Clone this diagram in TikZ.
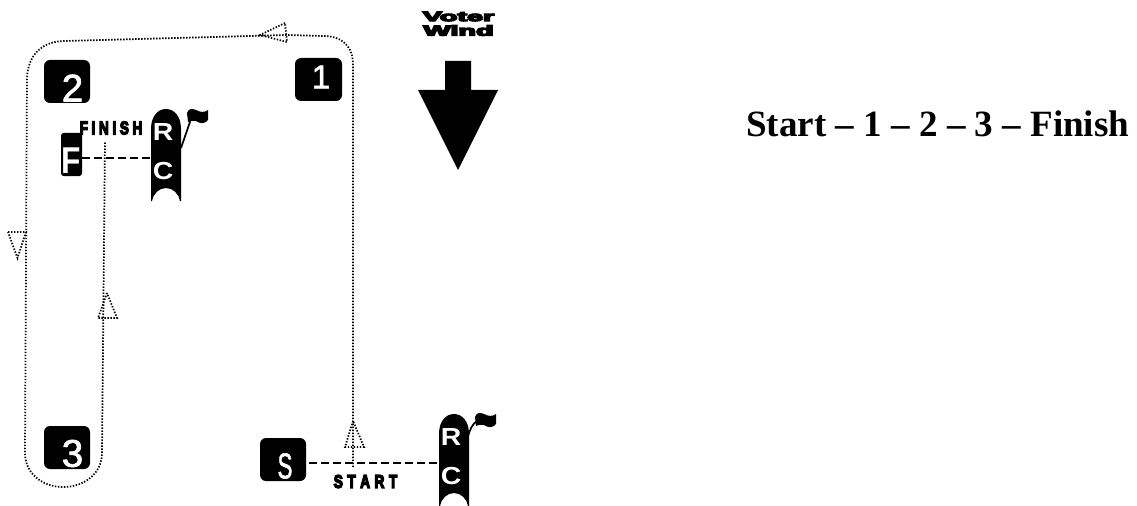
\documentclass[tikz,border=0pt]{standalone}
\usepackage{fontspec}
\setmainfont{Liberation Serif}
\setsansfont{Liberation Sans}
\newfontfamily\heavyfont[FakeBold=8]{Liberation Sans Bold}
\newfontfamily\medfont[FakeBold=1.6]{Liberation Sans}
\newcommand{\heavy}[3]{\scalebox{#1}[#2]{\heavyfont #3}}
\tikzset{
  x=0.75pt,y=-0.75pt,
  buoy/.style={fill=black,rounded corners=4.5pt,draw=none},
  course/.style={draw=black,line width=1.3pt,dash pattern=on 1.05pt off 1.2pt},
  startline/.style={draw=black,line width=1.4pt,dash pattern=on 6.2pt off 2.8pt},
  boat/.style={fill=black,draw=none},
  pole/.style={draw=black,line width=1.3pt},
  boatletter/.style={inner sep=0,text=white,font=\sffamily\bfseries\fontsize{18.5}{18.5}\selectfont},
  digit/.style={inner sep=0,text=white},
  heavytext/.style={inner sep=0,text=black},
  title/.style={inner sep=0,anchor=base west,font=\bfseries\fontsize{27.8}{27.8}\selectfont},
}
\newcommand{\rcboat}[3]{% x y name
  \begin{scope}[shift={(#1,#2)}]
    \fill[boat] (0,92) -- (0,20) .. controls (0,7) and (7,0) .. (15,0) .. controls (23,0) and (30,7) .. (30,20)
       -- (30,92) -- (29,92) .. controls (28,85) and (22,79) .. (15,79) .. controls (8,79) and (2,85) .. (1,92) -- cycle;
    \node[boatletter] (#3R) at (12,23) {\scalebox{1.15}[1]{R}};
    \node[boatletter] (#3C) at (12,62) {\scalebox{1.15}[1]{C}};
  \end{scope}}
\begin{document}
\begin{tikzpicture}
\useasboundingbox (0,0) rectangle (1137,506);
% course
\coordinate (c0) at (353,467);
\draw[course] (c0) -- (353,65) .. controls (353,46) and (342,36) .. (323,36) -- (287,35) -- (65,41)
   .. controls (42,41) and (28,55) .. (27,78) -- (25,453) .. controls (25,473) and (42,487) .. (63,487)
   .. controls (85,487) and (102,473) .. (102,453) -- (105,142);
\draw[course] (285,23) -- (260,35) -- (287,42) -- cycle;
\draw[course] (8,232) -- (26,232) -- (17.5,258) -- cycle;
\draw[course] (107,293) -- (98,318) -- (117,318) -- cycle;
\draw[course] (353,421) -- (345,447) -- (364,447) -- cycle;
% marks
\fill[buoy] (295,58) rectangle (342,101);
\fill[buoy] (44,60) rectangle (90,103);
\fill[buoy] (44,426) rectangle (90,469);
\fill[buoy] (260,438) rectangle (306,481);
\fill[buoy,rounded corners=2pt] (61,133) rectangle (82,176);
\node[digit] (n1) at (321,77) {\medfont\fontsize{25}{25}\selectfont 1};
\node[digit] (n2) at (72.5,88) {\medfont\fontsize{29}{29}\selectfont 2};
\node[digit] (n3) at (72.5,453.5) {\medfont\fontsize{29}{29}\selectfont 3};
\node[digit] (nS) at (285,466) {\scalebox{0.62}[1]{\medfont\fontsize{27}{27}\selectfont S}};
\node[digit] (nF) at (71.5,161) {\scalebox{0.85}[1]{\sffamily\bfseries\fontsize{28}{28}\selectfont F}};
% boats
\rcboat{151}{109}{a}
\rcboat{439}{414}{b}
\coordinate (a0) at (181,148);
\coordinate (b0) at (468,436);
\draw[pole] (a0) -- (191,119);
\fill (187,113) .. controls (188,109) and (192,108) .. (196,110) .. controls (200,112) and (204,113) .. (208,110)
   -- (208,120) .. controls (205,124) and (200,124) .. (196,121) .. controls (193,120) and (190,121) .. (188,122) -- cycle;
\draw[pole] (b0) .. controls (470,430) and (472,424) .. (477,421);
\fill (475,417) .. controls (476,413) and (480,412) .. (484,414) .. controls (488,416) and (492,417) .. (496,414)
   -- (496,424) .. controls (493,428) and (488,428) .. (484,425) .. controls (481,424) and (478,425) .. (476,426) -- cycle;
% start / finish
\draw[startline] (82,158) -- (151,158);
\draw[startline] (309,463) -- (439,463);
\node[heavytext] (fin) at (111,128) {\heavy{0.85}{1.15}{\fontsize{12}{12}\selectfont F\kern3.2pt I\kern3.2pt N\kern3.2pt I\kern3.2pt S\kern3.2pt H}};
\node[heavytext] (sta) at (365.5,481.5) {\heavy{0.85}{1.15}{\fontsize{12}{12}\selectfont S\kern4pt T\kern4pt A\kern4pt R\kern4pt T}};
% wind
\fill (445,61) -- (471,61) -- (471,90) -- (498,90) -- (458,170) -- (418,90) -- (445,90) -- cycle;
\node[heavytext] (voter) at (458.5,16.5) {\heavy{1.8}{0.85}{\fontsize{12}{12}\selectfont Voter}};
\node[heavytext] (wind) at (458.5,30.5) {\heavy{1.8}{0.9}{\fontsize{12}{12}\selectfont Wind}};
\node[title] (t) at (746,137) {Start – 1 – 2 – 3 – Finish};
\end{tikzpicture}
\end{document}
